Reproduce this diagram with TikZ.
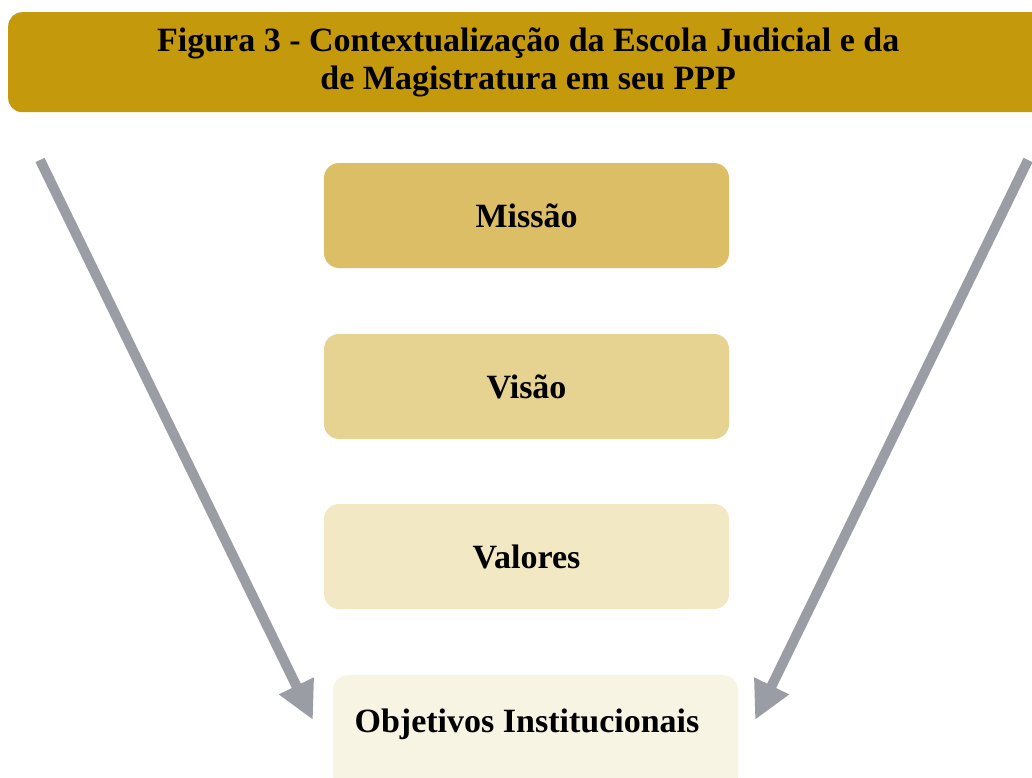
\documentclass[tikz,border=0pt]{standalone}
\usepackage{fontspec}
\setmainfont{Liberation Serif}
\usetikzlibrary{arrows.meta}
\definecolor{titlegold}{HTML}{C49A0C}
\definecolor{boxa}{HTML}{DBBE65}
\definecolor{boxb}{HTML}{E6D291}
\definecolor{boxc}{HTML}{F2E8C4}
\definecolor{boxd}{HTML}{F8F4E4}
\definecolor{arrowgray}{HTML}{9B9DA4}
\tikzset{
  stepbox/.style={rounded corners=15pt, minimum width=405pt, minimum height=105pt, inner sep=0pt,
    font=\fontsize{34}{38}\selectfont\bfseries},
  bigarrow/.style={draw=arrowgray, line width=10pt, -{Triangle[width=36pt,length=38pt]}, arrowgray},
}
\begin{document}
\begin{tikzpicture}[x=1pt,y=-1pt]
\useasboundingbox (0,0) rectangle (1032,777);
\fill[white] (0,0) rectangle (1032,777);
\node[fill=titlegold, rounded corners=14pt, minimum width=1040pt, minimum height=100pt, inner sep=0pt,
  align=center, font=\fontsize{34}{38}\selectfont\bfseries, anchor=north west] (title) at (8,12)
  {Figura 3 - Contextualização da Escola Judicial e da\\de Magistratura em seu PPP};
\node[stepbox, fill=boxa] (missao) at (526.5,215.5) {Missão};
\node[stepbox, fill=boxb] (visao) at (526.5,386.5) {Visão};
\node[stepbox, fill=boxc] (valores) at (526.5,556.5) {Valores};
\node[stepbox, fill=boxd, minimum height=115pt, anchor=north] (obj) at (535.5,675) {};
\node[font=\fontsize{34}{38}\selectfont\bfseries] (objtext) at (527,724) {Objetivos Institucionais};
\coordinate (lstart) at (40,160);
\coordinate (ltip) at (313,720);
\coordinate (rstart) at (1028,160);
\coordinate (rtip) at (755,720);
\draw[bigarrow] (lstart) -- (ltip);
\draw[bigarrow] (rstart) -- (rtip);
\end{tikzpicture}
\end{document}
